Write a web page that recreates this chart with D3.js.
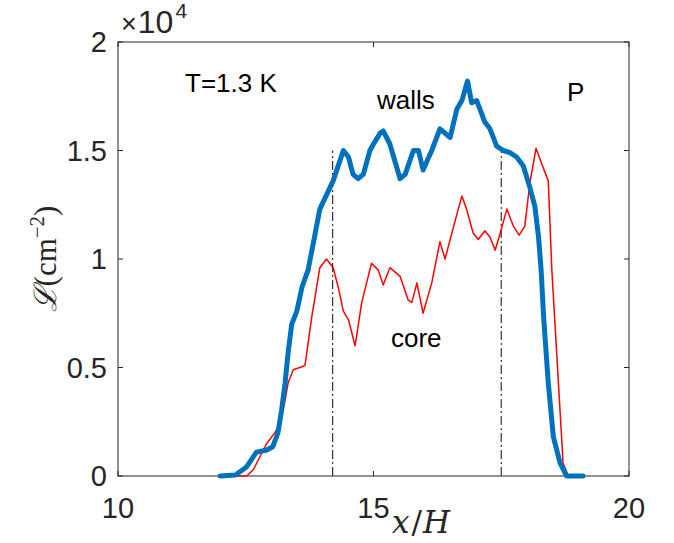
<!DOCTYPE html>
<html>
<head>
<meta charset="utf-8">
<script src="https://cdn.jsdelivr.net/npm/d3@7"></script>
<style>
  body { margin: 0; background: #fff; }
  svg { display: block; }
</style>
</head>
<body>
<div id="chart"></div>
<script>
// walls (thick blue) and core (thin red), values in units of 1e4 cm^-2
const wallsX = [12.0, 12.3, 12.52, 12.71, 12.91, 13.03, 13.13, 13.2, 13.27, 13.33, 13.4, 13.5, 13.6, 13.72, 13.82, 13.95, 14.15, 14.21, 14.41, 14.51, 14.6, 14.7, 14.8, 14.93, 15.0, 15.13, 15.19, 15.32, 15.52, 15.62, 15.78, 15.88, 15.97, 16.14, 16.3, 16.5, 16.63, 16.73, 16.84, 16.92, 17.02, 17.18, 17.28, 17.41, 17.54, 17.67, 17.8, 17.93, 18.06, 18.16, 18.23, 18.28, 18.33, 18.42, 18.52, 18.65, 18.78, 19.1]
const wallsY = [0, 0.005, 0.043, 0.11, 0.12, 0.135, 0.2, 0.3, 0.43, 0.57, 0.7, 0.76, 0.87, 0.95, 1.07, 1.23, 1.33, 1.36, 1.5, 1.47, 1.39, 1.37, 1.39, 1.5, 1.53, 1.58, 1.59, 1.53, 1.37, 1.39, 1.5, 1.5, 1.41, 1.5, 1.6, 1.56, 1.69, 1.73, 1.82, 1.72, 1.73, 1.63, 1.6, 1.52, 1.5, 1.49, 1.47, 1.43, 1.33, 1.24, 1.1, 0.95, 0.73, 0.43, 0.18, 0.06, 0, 0]

const coreX = [12.0, 12.52, 12.65, 12.78, 12.91, 13.07, 13.17, 13.27, 13.33, 13.43, 13.56, 13.66, 13.79, 13.95, 14.08, 14.21, 14.31, 14.41, 14.51, 14.64, 14.77, 14.96, 15.09, 15.19, 15.32, 15.52, 15.68, 15.75, 15.85, 15.97, 16.14, 16.3, 16.4, 16.59, 16.73, 16.82, 16.95, 17.05, 17.18, 17.28, 17.38, 17.48, 17.61, 17.74, 17.85, 17.96, 18.06, 18.18, 18.29, 18.42, 18.49, 18.71, 18.81, 19.14]
const coreY = [0, 0, 0.03, 0.09, 0.15, 0.2, 0.24, 0.35, 0.43, 0.49, 0.5, 0.51, 0.73, 0.96, 1.0, 0.96, 0.87, 0.76, 0.72, 0.6, 0.8, 0.98, 0.95, 0.88, 0.96, 0.92, 0.81, 0.8, 0.89, 0.75, 0.89, 1.08, 1.0, 1.17, 1.29, 1.23, 1.12, 1.09, 1.13, 1.1, 1.04, 1.12, 1.23, 1.15, 1.11, 1.15, 1.35, 1.51, 1.44, 1.36, 0.95, 0.06, 0, 0]

// vertical dash-dot markers
const markerX = [14.2, 17.5]
const markerTop = 1.5

const xTicks = [10, 15, 20]
const yTicks = [0, 0.5, 1, 1.5, 2]

const width = 674
const height = 543
const margin = { top: 42, right: 45, bottom: 67, left: 118 }

const svg = d3.select("#chart")
  .append("svg")
  .attr("width", width)
  .attr("height", height)

const x = d3.scaleLinear().domain([10, 20]).range([margin.left, width - margin.right])
const y = d3.scaleLinear().domain([0, 2]).range([height - margin.bottom, margin.top])

const axisColor = "#262626"
const tickFont = "Liberation Sans, Arial, sans-serif"

// box
svg.append("rect")
  .attr("x", x(10))
  .attr("y", y(2))
  .attr("width", x(20) - x(10))
  .attr("height", y(0) - y(2))
  .attr("fill", "none")
  .attr("stroke", axisColor)
  .attr("stroke-width", 1)

// inward ticks on all four sides
const tickLen = 5
svg.append("g").selectAll("line")
  .data(xTicks)
  .join("line")
  .attr("x1", d => x(d)).attr("x2", d => x(d))
  .attr("y1", y(0)).attr("y2", y(0) - tickLen)
  .attr("stroke", axisColor)
svg.append("g").selectAll("line")
  .data(xTicks)
  .join("line")
  .attr("x1", d => x(d)).attr("x2", d => x(d))
  .attr("y1", y(2)).attr("y2", y(2) + tickLen)
  .attr("stroke", axisColor)
svg.append("g").selectAll("line")
  .data(yTicks)
  .join("line")
  .attr("x1", x(10)).attr("x2", x(10) + tickLen)
  .attr("y1", d => y(d)).attr("y2", d => y(d))
  .attr("stroke", axisColor)
svg.append("g").selectAll("line")
  .data(yTicks)
  .join("line")
  .attr("x1", x(20)).attr("x2", x(20) - tickLen)
  .attr("y1", d => y(d)).attr("y2", d => y(d))
  .attr("stroke", axisColor)

// tick labels
svg.append("g").selectAll("text")
  .data(xTicks)
  .join("text")
  .attr("x", d => x(d))
  .attr("y", y(0) + 42)
  .attr("text-anchor", "middle")
  .style("font-family", tickFont)
  .style("font-size", "29px")
  .attr("fill", axisColor)
  .text(d => d)

svg.append("g").selectAll("text")
  .data(yTicks)
  .join("text")
  .attr("x", x(10) - 11)
  .attr("y", d => y(d) + 10)
  .attr("text-anchor", "end")
  .style("font-family", tickFont)
  .style("font-size", "29px")
  .attr("fill", axisColor)
  .text(d => d)

// exponent
const expo = svg.append("text")
  .attr("x", x(10) + 3)
  .attr("y", y(2) - 9)
  .style("font-family", tickFont)
  .style("font-size", "32px")
  .attr("fill", axisColor)
expo.append("tspan").style("font-size", "27px").text("\u00d7")
expo.append("tspan").attr("dx", 1).text("10")
expo.append("tspan").style("font-size", "21px").attr("dx", 2).attr("dy", -15).text("4")

// marker lines
svg.append("g").selectAll("line")
  .data(markerX)
  .join("line")
  .attr("x1", d => x(d)).attr("x2", d => x(d))
  .attr("y1", y(0)).attr("y2", y(markerTop))
  .attr("stroke", "#333")
  .attr("stroke-width", 1.2)
  .attr("stroke-dasharray", "9,3,2,3")

const line = d3.line()
  .x(d => x(d[0]))
  .y(d => y(d[1]))

svg.append("path")
  .datum(coreX.map((v, i) => [v, coreY[i]]))
  .attr("d", line)
  .attr("fill", "none")
  .attr("stroke", "#ff0000")
  .attr("stroke-width", 1.5)
  .attr("stroke-linejoin", "round")

svg.append("path")
  .datum(wallsX.map((v, i) => [v, wallsY[i]]))
  .attr("d", line)
  .attr("fill", "none")
  .attr("stroke", "#0072bd")
  .attr("stroke-width", 5)
  .attr("stroke-linejoin", "round")
  .attr("stroke-linecap", "round")

// annotations
const notes = [
  { t: "T=1.3 K", px: 185, py: 92 },
  { t: "walls", px: 377, py: 109 },
  { t: "P", px: 567, py: 101 },
  { t: "core", px: 391, py: 347 },
]
svg.append("g").selectAll("text")
  .data(notes)
  .join("text")
  .attr("x", d => d.px)
  .attr("y", d => d.py)
  .style("font-family", tickFont)
  .style("font-size", "26px")
  .attr("fill", "#000")
  .text(d => d.t)

// axis labels
const xl = svg.append("text")
  .attr("x", 421)
  .attr("y", 533)
  .attr("text-anchor", "middle")
  .style("font-family", "DejaVu Serif, Liberation Serif, serif")
  .style("font-size", "31px")
  .attr("fill", axisColor)
xl.append("tspan").style("font-style", "italic").text("x")
xl.append("tspan").attr("dx", 2).text("/")
xl.append("tspan").attr("dx", 1).style("font-style", "italic").text("H")

const yl = svg.append("text")
  .attr("transform", `translate(56,${(y(0) + y(2)) / 2}) rotate(-90)`)
  .attr("text-anchor", "middle")
  .style("font-family", "Liberation Serif, DejaVu Serif, serif")
  .style("font-size", "31px")
  .attr("fill", axisColor)
yl.append("tspan").style("font-style", "italic").text("\u2112")
yl.append("tspan").text("(cm")
yl.append("tspan").attr("dy", -12).style("font-size", "21px").text("\u22122")
yl.append("tspan").attr("dy", 12).text(")")
</script>
</body>
</html>
